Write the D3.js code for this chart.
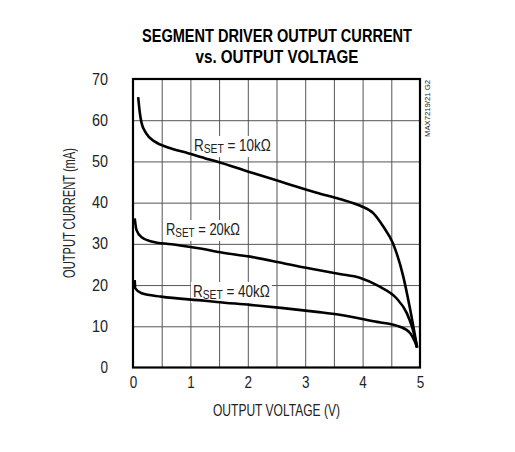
<!DOCTYPE html>
<html>
<head>
<meta charset="utf-8">
<script src="https://cdn.jsdelivr.net/npm/d3@7"></script>
<style>
  body { margin: 0; background: #fff; }
  svg { display: block; }
  text { font-family: "Liberation Sans", "DejaVu Sans Condensed", sans-serif; fill: #222; }
  .grid line { stroke: #555; stroke-width: 1; }
  .grid path { display: none; }
  .curve { fill: none; stroke: #000; stroke-width: 2.6; }
</style>
</head>
<body>
<div class="container"></div>
<script>
const width = 515;
const height = 452;

const xTicks = [0, 1, 2, 3, 4, 5];
const yTicks = [0, 10, 20, 30, 40, 50, 60, 70];

const volts10k = [0.09, 0.12, 0.15, 0.23, 0.38, 0.61, 0.96, 1.25, 1.46, 2.04, 2.62, 3.2, 3.6, 3.95, 4.19, 4.36, 4.53, 4.71, 4.83, 4.95];
const amps10k  = [65.6, 61.7, 59.3, 56.8, 54.8, 53.4, 52.0, 50.8, 50.0, 47.4, 44.9, 42.4, 40.9, 39.3, 37.4, 34.2, 30.1, 22.0, 14.0, 4.8];

const volts20k = [0.03, 0.06, 0.15, 0.32, 0.67, 1.25, 1.46, 2.04, 2.62, 3.2, 3.6, 3.95, 4.3, 4.59, 4.77, 4.86, 4.95];
const amps20k  = [36.2, 33.4, 31.6, 30.6, 29.9, 28.7, 28.1, 26.9, 25.3, 23.7, 22.7, 21.8, 19.6, 16.8, 13.2, 9.9, 5.0];

const volts40k = [0.03, 0.04, 0.15, 0.49, 1.25, 1.46, 2.04, 2.62, 3.2, 3.6, 4.19, 4.65, 4.83, 4.91, 4.95];
const amps40k  = [21.2, 19.2, 18.0, 17.2, 16.2, 15.9, 15.2, 14.4, 13.5, 12.8, 11.2, 9.9, 8.3, 6.3, 4.8];

const series = [
  { name: "10kΩ", volts: volts10k, amps: amps10k, lx: 194, ly: 151, w: 77 },
  { name: "20kΩ", volts: volts20k, amps: amps20k, lx: 166, ly: 235, w: 74 },
  { name: "40kΩ", volts: volts40k, amps: amps40k, lx: 193, ly: 297, w: 77 }
];

const plotLeft = 133, plotRight = 420, plotTop = 79, plotBottom = 367.5;

const svg = d3.select(".container").append("svg").attr("width", width).attr("height", height);

const x = d3.scaleLinear().domain([0, 5]).range([plotLeft, plotRight]);
const y = d3.scaleLinear().domain([0, 70]).range([plotBottom, plotTop]);

// grid: 0.5 V and 10 mA
svg.append("g")
    .attr("class", "grid")
    .attr("transform", `translate(0,${plotBottom})`)
    .call(d3.axisBottom(x).tickValues(d3.range(0.5, 5, 0.5)).tickSize(-(plotBottom - plotTop)).tickFormat(""));
svg.append("g")
    .attr("class", "grid")
    .attr("transform", `translate(${plotLeft},0)`)
    .call(d3.axisLeft(y).tickValues(d3.range(10, 70, 10)).tickSize(-(plotRight - plotLeft)).tickFormat(""));

// tick labels
const xAxis = svg.append("g")
    .attr("transform", `translate(0,${plotBottom})`)
    .call(d3.axisBottom(x).tickValues(xTicks).tickSize(0).tickPadding(9).tickFormat(d3.format("d")));
xAxis.select(".domain").remove();
xAxis.attr("font-family", null).attr("font-size", null);
xAxis.selectAll("text").attr("font-size", 16).attr("textLength", 7.5).attr("lengthAdjust", "spacingAndGlyphs");

const yAxis = svg.append("g")
    .attr("transform", `translate(${plotLeft},0)`)
    .call(d3.axisLeft(y).tickValues(yTicks).tickSize(0).tickPadding(25).tickFormat(d3.format("d")));
yAxis.select(".domain").remove();
yAxis.attr("font-family", null).attr("font-size", null);
yAxis.selectAll("text").attr("font-size", 16)
    .attr("textLength", d => d >= 10 ? 16 : 7.5).attr("lengthAdjust", "spacingAndGlyphs");

// labels with white backing (drawn under the curves)
const labels = svg.append("g").selectAll("g")
  .data(series)
  .enter().append("g")
    .attr("transform", s => `translate(${s.lx},${s.ly})`);

labels.append("rect")
    .attr("x", -2).attr("y", -15).attr("width", s => s.w + 4).attr("height", 21)
    .attr("fill", "#fff");

const lt = labels.append("text").attr("font-size", 17);
lt.append("tspan").text("R");
lt.append("tspan").attr("font-size", 13).attr("dy", 2).text("SET");
lt.append("tspan").attr("dy", -2).text(s => " = " + s.name);
// squeeze to the narrow face of the original
lt.attr("transform", function(s) { return `scale(${s.w / this.getComputedTextLength()},1)`; });

// curves
const line = d3.line()
    .x(d => x(d[0]))
    .y(d => y(d[1]))
    .curve(d3.curveMonotoneX);

svg.append("g").selectAll("path")
  .data(series)
  .enter().append("path")
    .attr("class", "curve")
    .attr("d", s => line(s.volts.map((v, i) => [v, s.amps[i]])));

// frame
svg.append("rect")
    .attr("x", plotLeft).attr("y", plotTop)
    .attr("width", plotRight - plotLeft).attr("height", plotBottom - plotTop)
    .attr("fill", "none").attr("stroke", "#000").attr("stroke-width", 2.2);

// titles
svg.append("text")
    .attr("x", 277).attr("y", 42)
    .attr("text-anchor", "middle")
    .attr("font-size", 18).attr("font-weight", "bold")
    .attr("textLength", 270).attr("lengthAdjust", "spacingAndGlyphs")
    .style("fill", "#000")
    .text("SEGMENT DRIVER OUTPUT CURRENT");
svg.append("text")
    .attr("x", 277).attr("y", 63)
    .attr("text-anchor", "middle")
    .attr("font-size", 18).attr("font-weight", "bold")
    .attr("textLength", 163).attr("lengthAdjust", "spacingAndGlyphs")
    .style("fill", "#000")
    .text("vs. OUTPUT VOLTAGE");

svg.append("text")
    .attr("x", 276.5).attr("y", 416)
    .attr("text-anchor", "middle")
    .attr("font-size", 17)
    .attr("textLength", 127).attr("lengthAdjust", "spacingAndGlyphs")
    .text("OUTPUT VOLTAGE (V)");

svg.append("text")
    .attr("transform", "translate(75,213) rotate(-90)")
    .attr("text-anchor", "middle")
    .attr("font-size", 17)
    .attr("textLength", 130).attr("lengthAdjust", "spacingAndGlyphs")
    .text("OUTPUT CURRENT (mA)");

svg.append("text")
    .attr("transform", "translate(430,137) rotate(-90)")
    .attr("font-size", 8)
    .attr("textLength", 57).attr("lengthAdjust", "spacingAndGlyphs")
    .text("MAX7219/21 G2");
</script>
</body>
</html>
